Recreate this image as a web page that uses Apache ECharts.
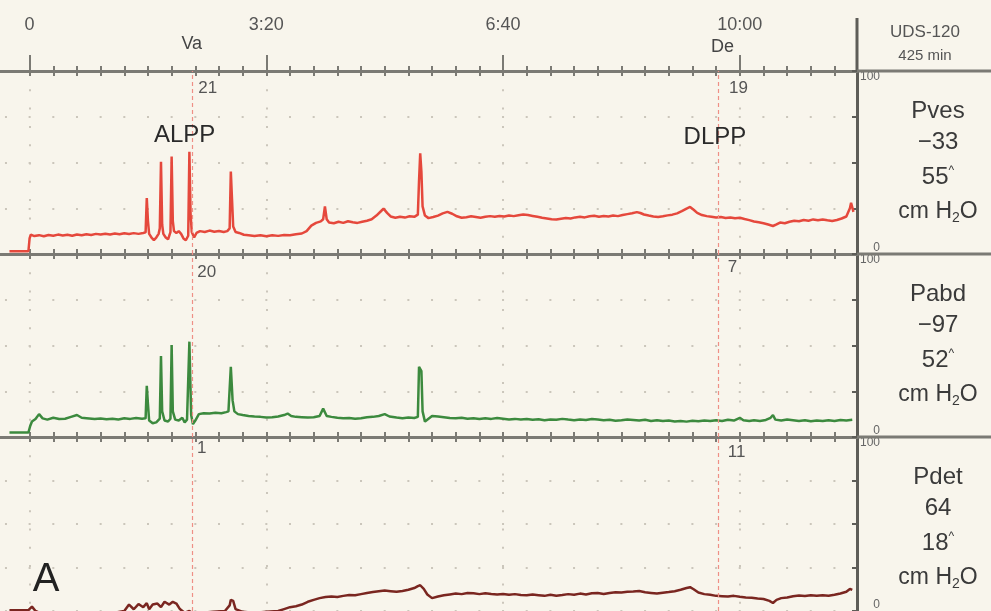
<!DOCTYPE html>
<html>
<head>
<meta charset="utf-8">
<script src="https://cdn.jsdelivr.net/npm/echarts@6/dist/echarts.min.js"></script>
<style>
  html, body { margin: 0; padding: 0; background: #f8f5ec; }
  #chart { width: 991px; height: 611px; }
</style>
</head>
<body>
<div id="chart"></div>
<script>
// time axis (seconds)
const timeTicks = [0, 200, 400, 600];
const minorTicks = [0, 20, 40, 60, 80, 100, 120, 140, 160, 180, 200, 220, 240, 260, 280, 300, 320, 340,
  360, 380, 400, 420, 440, 460, 480, 500, 520, 540, 560, 580, 600, 620, 640, 660, 680];

// event markers
const markerTimes = [137, 582];
const markerNames = ["Va", "De"];
const markerReadings = [[21, 19], [20, 7], [1, 11]];

// channel box on the right
const channelNames = ["Pves", "Pabd", "Pdet"];
const channelReadings = ["\u221233", "\u221297", "64"];
const channelPeaks = ["55", "52", "18"];
const deviceLines = ["UDS-120", "425 min"];

// traces: [time s, cm H2O]
const pvesData = [[-17,1.5],[-1,1.5],[0,8.5],[1,10.6],[4,9.8],[8,10.3],[12,9.7],[16,10.4],[20,10],[24,10.6],[28,10.1],[32,10.5],[36,10],[40,10.7],[44,10.3],[48,10.8],[52,10.4],[56,11],[60,10.6],[64,11.1],[68,10.7],[72,11.2],[76,10.8],[80,11.3],[84,10.9],[88,11.4],[92,11],[96,11.5],[98,11.8],[99,30.6],[100,18],[101,11],[103,9],[105,7.6],[107,9],[109,11],[110,14],[111,50.4],[112,16],[113,11],[115,9],[117,8],[119,12],[120,53.2],[121,18],[122,12.5],[124,11.5],[126,12.5],[128,11],[130,8.5],[132,7.5],[134,10],[135,55.9],[136,22],[137,12],[139,9],[141,11.5],[144,12.5],[148,12],[152,12.8],[156,12.2],[160,12.6],[164,12],[167,12.5],[169,14],[170,45],[171,30],[172,15],[174,12],[177,11.5],[181,10.5],[185,10.2],[190,9.8],[195,10.2],[200,9.7],[205,10.3],[210,9.9],[215,10.4],[220,10.2],[225,10.8],[230,11.2],[234,12.5],[238,15.5],[242,17],[246,17.8],[248,19],[249.5,26],[251,19],[253,17.2],[257,16.8],[261,17.6],[265,17],[269,17.9],[273,17.3],[277,17],[281,17.6],[285,18.2],[289,19],[293,21],[297,23.5],[299,24.8],[302,22.5],[305,20.5],[309,19.8],[313,20.4],[317,19.9],[321,20.6],[325,20.3],[328,21.5],[329,40],[330,55],[331,45],[332,26],[334,21],[337,19.6],[341,20.2],[345,21],[349,22.2],[353,23],[357,22],[361,20.6],[365,19.8],[369,20.1],[373,20.6],[377,20.2],[381,19.8],[385,20.3],[389,20.7],[393,20.3],[397,20.8],[401,20.5],[405,21],[409,20.7],[413,21.2],[417,21.6],[421,21.3],[425,20.8],[429,20.3],[433,19.8],[437,19.4],[441,19],[445,18.8],[449,19.3],[453,19.7],[457,19.4],[461,20],[465,20.3],[469,20],[473,20.6],[477,20.9],[481,20.4],[485,20.8],[489,20.5],[493,21],[497,20.7],[501,21.3],[505,21.8],[509,22.3],[513,22.9],[516,22.4],[519,21.6],[523,21],[527,20.5],[531,20.2],[535,20.6],[539,21.1],[543,21.5],[547,22.2],[551,23.4],[555,24.8],[558,25.7],[561,24.2],[564,22.5],[568,21.3],[572,20.7],[576,20.3],[580,19.9],[584,20.2],[588,19.7],[592,20],[596,19.5],[600,19.8],[604,19.1],[608,18.5],[612,17.8],[616,17.3],[620,16.8],[624,16.1],[628,15.3],[631,16.2],[634,17.2],[638,16.8],[642,17.6],[646,18.2],[650,17.9],[654,18.6],[658,18.2],[662,18.9],[666,18.5],[670,18.9],[674,18.4],[678,18],[682,18.6],[686,19.4],[690,20.5],[693,25],[694,28],[696,23]];

const pabdData = [[-17,2.4],[-1,2.4],[0.5,6],[2,8.5],[5,9.8],[8,12.5],[11,10.2],[15,9.5],[20,10.5],[25,9.8],[30,10],[35,11],[40,12],[44,10.5],[48,10.3],[55,9.8],[60,10.1],[65,9.7],[70,10],[75,9.6],[80,10.2],[85,9.9],[90,10.4],[95,10],[98,10.2],[99,28],[100,18],[101,9],[104,7.5],[107,8],[110,10],[111,44.3],[112,14],[114,9],[117,8.5],[119,10],[120,50.3],[121,14],[123,9.5],[126,9],[129,10.5],[131,8],[133,9.5],[135,52.1],[136.5,12],[138,7],[140,9],[143,12.5],[147,13],[152,12.8],[157,13.2],[162,13],[166,13.6],[168,14],[170,38.4],[171.5,20],[173,14],[176,12.5],[180,12],[185,11.5],[190,11.2],[195,11],[200,10.6],[205,10.8],[210,11.2],[215,12],[218,12.8],[221,11.5],[225,11],[230,10.8],[235,10.6],[240,10.8],[245,11.5],[248,15.5],[251,11.5],[255,11],[260,10.5],[265,10.2],[270,10.4],[275,10],[280,10.3],[285,10.8],[290,11],[295,11.5],[300,12.5],[304,11.2],[310,10.6],[315,10.3],[320,10.6],[325,10.4],[328,11],[329,38.4],[331,36],[332,14],[334,8.4],[337,10],[340,11.5],[345,11.2],[350,10.8],[355,10.4],[360,10.2],[365,10.5],[370,10],[375,10.3],[380,9.8],[385,10.2],[390,9.9],[395,10.4],[400,10],[405,9.6],[410,9.9],[415,9.5],[420,9.8],[425,9.4],[430,9.7],[435,9.2],[440,9.6],[445,9.4],[450,9.9],[455,9.5],[460,9.2],[465,9.6],[470,9.3],[475,9.8],[480,9.5],[485,9.1],[490,9.4],[495,8.9],[500,9.2],[505,9.6],[510,9.3],[515,9],[520,9.4],[525,8.8],[530,9.1],[535,8.7],[540,9],[545,8.5],[550,8.8],[555,8.4],[560,8.9],[565,8.6],[570,9],[575,8.7],[580,9.2],[585,8.8],[590,9.4],[595,9],[600,10.5],[603,9.2],[608,8.7],[612,9.1],[617,8.8],[622,9.3],[626,10.5],[628,12],[630,9.5],[635,9],[640,9.6],[645,9.2],[650,8.8],[655,9.1],[660,8.6],[665,9],[670,8.7],[675,9.2],[680,8.8],[685,9.3],[690,9],[695,9.4]];

const pdetData = [[-17,0.5],[-1,0.5],[0,1.5],[2,2.5],[5,0],[10,-1.5],[20,-2],[30,-1.5],[40,-1.8],[50,-1.4],[60,-1.6],[70,-1.2],[80,0],[84,3.7],[88,1],[92,4],[96,2.2],[99,4.5],[101,1],[104,3.7],[108,4.3],[111,2.2],[114,5.3],[118,3.7],[121,5.3],[124,4.3],[127,1.1],[131,-1],[135,0],[138,-1.5],[145,-1],[155,-0.5],[165,0],[169,3.2],[170,6.4],[172,5.8],[174,1.1],[180,-0.5],[190,-1],[200,-0.5],[210,0],[215,1.1],[220,2.2],[225,2.7],[230,3.7],[235,5.3],[240,6.4],[245,7.4],[250,8.1],[255,8.4],[260,8.1],[265,8.7],[270,9.2],[275,9],[280,9.7],[285,10.4],[290,10.9],[295,11.4],[300,11.8],[305,11.4],[310,11],[315,11.5],[320,12.2],[325,13.2],[328,14.3],[330,14.8],[333,12.7],[336,9.5],[340,7.4],[345,8.3],[350,9],[355,9.5],[360,10],[365,9.7],[370,10.4],[375,10.2],[380,9.7],[385,10.2],[390,9.8],[395,9.5],[400,9.8],[405,9.3],[410,9.7],[415,9.2],[420,9],[425,9.5],[430,9.1],[435,8.7],[440,9.3],[445,8.8],[450,9.2],[455,9.7],[460,9.3],[465,10],[470,9.5],[475,10.2],[480,10.3],[485,9.8],[490,10.4],[495,10.8],[500,10.6],[505,11],[510,11.2],[515,11.5],[520,10.8],[525,10.4],[530,10],[535,10.5],[540,10.9],[545,11.4],[550,12.2],[555,13.2],[558,13.7],[561,12.5],[565,10.6],[570,9.7],[575,9.3],[580,8.7],[585,8.5],[590,8.3],[595,8.7],[600,8.2],[605,7.8],[610,7.6],[615,7.2],[620,6.9],[625,5.8],[628,4.6],[631,6.4],[635,7.4],[640,7.8],[645,8.5],[650,8.9],[655,8.6],[660,9],[665,8.7],[670,9.1],[675,8.8],[680,9.3],[685,10.1],[690,11.1],[693,12.7],[695,12.1]];

const FONT = '"Liberation Sans", Arial, sans-serif';
const GRID_TOPS = [71, 254, 437];
const PANEL_H = 183;
const DIVIDER_X = 857;
const X_MIN = -25, X_MAX = 699;

const axisColor = "#7b7a74";
const dividerColor = "#5e5d58";
const dotColor = "#cbc6bb";
const traceColors = ["#e5483c", "#3c8a3e", "#7a2620"];

const fmtTime = (v) => v === 0 ? "0" : Math.floor(v / 60) + ":" + String(v % 60).padStart(2, "0");

const tickStyle = { color: axisColor, width: 2 };

function xAxisFor(gridIndex, extra) {
  return Object.assign({
    type: "value",
    gridIndex,
    min: X_MIN,
    max: X_MAX,
    axisLine: { show: false, onZero: false },
    axisTick: { show: false },
    axisLabel: { show: false },
    splitLine: { show: false }
  }, extra);
}

const vDots = { show: true, lineStyle: { color: dotColor, width: 2, type: [2, 16.3] } };

const xAxes = [
  // top time axis with labels and long ticks
  xAxisFor(0, {
    position: "top",
    axisLine: { show: true, onZero: false, lineStyle: { color: axisColor, width: 3 } },
    axisTick: { show: true, customValues: timeTicks, length: 16, lineStyle: tickStyle },
    axisLabel: { show: true, customValues: timeTicks, formatter: fmtTime, margin: 37,
      fontSize: 18, color: "#555", fontFamily: FONT },
    splitLine: vDots
  }),
  // short crossing ticks on top line
  xAxisFor(0, { position: "top", offset: 5,
    axisTick: { show: true, inside: true, length: 10, customValues: minorTicks, lineStyle: tickStyle } }),
  // line between Pves and Pabd
  xAxisFor(0, { position: "bottom",
    axisLine: { show: true, onZero: false, lineStyle: { color: axisColor, width: 3 } },
    axisTick: { show: true, inside: true, length: 5, customValues: minorTicks, lineStyle: tickStyle } }),
  xAxisFor(1, { position: "top",
    axisTick: { show: true, inside: true, length: 5, customValues: minorTicks, lineStyle: tickStyle } }),
  // line between Pabd and Pdet
  xAxisFor(1, { position: "bottom",
    axisLine: { show: true, onZero: false, lineStyle: { color: axisColor, width: 3 } },
    axisTick: { show: true, inside: true, length: 5, customValues: minorTicks, lineStyle: tickStyle } }),
  xAxisFor(1, { position: "bottom", axisTick: { show: false, customValues: timeTicks }, splitLine: vDots }),
  xAxisFor(2, { position: "top",
    axisTick: { show: true, inside: true, length: 5, customValues: minorTicks, lineStyle: tickStyle } }),
  xAxisFor(2, { position: "bottom", axisTick: { show: false, customValues: timeTicks }, splitLine: vDots })
];
const seriesXAxis = [0, 3, 6];

const yAxes = GRID_TOPS.map((_, g) => ({
  type: "value",
  gridIndex: g,
  position: "right",
  min: 0,
  max: 100,
  interval: 25,
  axisLine: { show: true, onZero: false, lineStyle: { color: dividerColor, width: 3 } },
  axisTick: { show: true, inside: true, length: 5, lineStyle: { color: dividerColor, width: 2 } },
  axisLabel: {
    formatter: (v) => (v === 0 || v === 100) ? String(v) : "",
    align: "right", margin: 23, fontSize: 12, color: "#666", fontFamily: FONT,
    verticalAlignMinLabel: "bottom", verticalAlignMaxLabel: "top"
  },
  splitLine: { show: true, lineStyle: { color: dotColor, width: 2, type: [2, 21.67], dashOffset: 18.7 } }
}));

// pixel offsets of the small reading labels next to each marker line
const readingOffsets = [[[16, 17], [20, 17]], [[15, 18], [14, 13]], [[10, 11], [18, 15]]];

function buildMarkPoints(ch) {
  const pts = markerTimes.map((t, i) => ({
    coord: [t, 100],
    value: markerReadings[ch][i],
    label: { offset: readingOffsets[ch][i] }
  }));
  if (ch === 0) {
    markerTimes.forEach((t, i) => pts.push({
      coord: [t, 100], value: markerNames[i],
      label: { offset: i === 0 ? [0, -27] : [4, -24], fontSize: 18, color: "#444" }
    }));
    pts.push({ coord: [131, 65], value: "ALPP", label: { fontSize: 24, color: "#2a2a2a" } });
    pts.push({ coord: [579, 64], value: "DLPP", label: { fontSize: 24, color: "#2a2a2a" } });
  }
  if (ch === 2) {
    pts.push({ coord: [14, 18], value: "A", label: { fontSize: 40, color: "#222" } });
  }
  return pts;
}

const seriesList = [pvesData, pabdData, pdetData].map((data, ch) => ({
  name: channelNames[ch],
  type: "line",
  xAxisIndex: seriesXAxis[ch],
  yAxisIndex: ch,
  data,
  showSymbol: false,
  lineStyle: { color: traceColors[ch], width: 2.5 },
  z: 3,
  markLine: {
    silent: true,
    symbol: ["none", "none"],
    label: { show: false },
    lineStyle: { color: "#ef8f86", width: 1.2, type: [4, 3] },
    data: markerTimes.map((t) => ({ xAxis: t }))
  },
  markPoint: {
    silent: true,
    symbol: "circle",
    symbolSize: 0,
    label: { show: true, formatter: "{c}", fontSize: 17, color: "#555", fontFamily: FONT },
    data: buildMarkPoints(ch)
  }
}));

// right-hand channel box text
const textStyle = (text, x, y, size, color, rich) => ({
  type: "text", x, y, silent: true, z: 10,
  style: {
    text, fill: color, font: size + "px " + FONT,
    align: "center", textAlign: "center", verticalAlign: "middle", textVerticalAlign: "middle",
    rich: rich || {}
  }
});
const boxX = 938;
const graphics = [
  { type: "line", silent: true, z: 10, shape: { x1: DIVIDER_X, y1: 18, x2: DIVIDER_X, y2: GRID_TOPS[0] },
    style: { stroke: dividerColor, lineWidth: 3 } },
  textStyle(deviceLines[0], 925, 32, 17, "#555"),
  textStyle(deviceLines[1], 925, 56, 15, "#555")
];
GRID_TOPS.forEach((top, ch) => {
  graphics.push({ type: "line", silent: true, z: 10, shape: { x1: DIVIDER_X, y1: top, x2: 991, y2: top },
    style: { stroke: axisColor, lineWidth: 3 } });
  graphics.push(textStyle(channelNames[ch], boxX, top + 40, 24, "#3a3a3a"));
  graphics.push(textStyle(channelReadings[ch], boxX, top + 71, 24, "#3a3a3a"));
  graphics.push(textStyle(channelPeaks[ch] + "{sup|^}", boxX, top + 106, 24, "#3a3a3a",
    { sup: { fontSize: 12, verticalAlign: "top", fill: "#3a3a3a", fontFamily: FONT } }));
  graphics.push(textStyle("cm H{sub|2}O", boxX, top + 141, 23, "#3a3a3a",
    { sub: { fontSize: 14, verticalAlign: "bottom", padding: [12, 0, 0, 0], fill: "#3a3a3a", fontFamily: FONT } }));
});

const chart = echarts.init(document.getElementById("chart"));
chart.setOption({
  backgroundColor: "#f8f5ec",
  animation: false,
  textStyle: { fontFamily: FONT },
  grid: [
    { left: 0, right: 991 - DIVIDER_X, top: GRID_TOPS[0], height: PANEL_H },
    { left: 0, right: 991 - DIVIDER_X, top: GRID_TOPS[1], height: PANEL_H },
    // bottom panel is cut off by the image edge
    { left: 0, right: 991 - DIVIDER_X, top: GRID_TOPS[2], bottom: 0 }
  ],
  xAxis: xAxes,
  yAxis: yAxes,
  series: seriesList,
  graphic: graphics
});
</script>
</body>
</html>
